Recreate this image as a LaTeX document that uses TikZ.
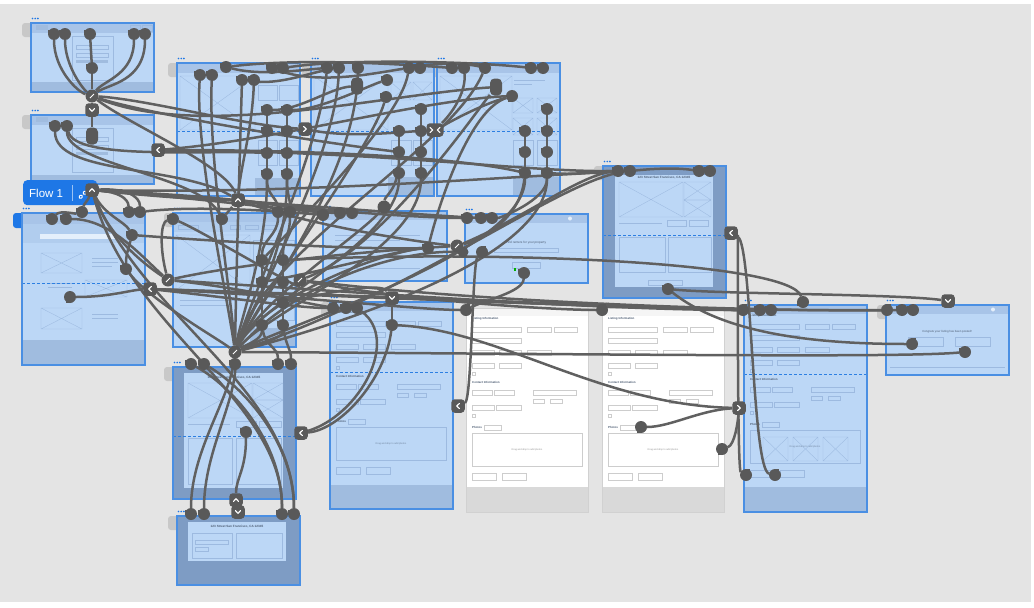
\documentclass[tikz,border=0pt]{standalone}
\usepackage{fontspec}
\setmainfont{Liberation Sans}
\usetikzlibrary{calc}
\pgfdeclarelayer{boards}
\pgfdeclarelayer{wires}
\pgfsetlayers{boards,wires,main}
\definecolor{bgc}{HTML}{E4E4E4}
\definecolor{abf}{HTML}{BCD7F6}
\definecolor{abh}{HTML}{A8C4E8}
\definecolor{abb}{HTML}{A0BCDF}
\definecolor{abd}{HTML}{7E9CC4}
\definecolor{bdr}{HTML}{4A8FE3}
\definecolor{wirec}{HTML}{606060}
\definecolor{nubc}{HTML}{595959}
\definecolor{dashc}{HTML}{2C7FE2}
\definecolor{flowc}{HTML}{1E77E6}
\definecolor{tabc}{HTML}{C8C8C8}
\definecolor{wfl}{HTML}{9DBAE0}
\definecolor{wgl}{HTML}{CDCDCD}
\definecolor{wbb}{HTML}{D9D9D9}
\definecolor{txc}{HTML}{4D5D73}
\tikzset{
  x=1pt,y=-1pt,
  wire/.style={draw=wirec,line width=2.5pt},
  boardf/.style={fill=abf,draw=none,inner sep=0pt,outer sep=0pt,anchor=north west},
  dboard/.style={boardf,fill=abd},
  wboard/.style={boardf,fill=white},
  bord/.style={draw=bdr,line width=1.3pt},
  fold/.style={draw=dashc,line width=0.8pt,dash pattern=on 3pt off 2pt},
  wf/.style={draw=wfl,line width=0.35pt},
  nubbase/.style={circle,fill=nubc,minimum size=12pt,inner sep=0pt,outer sep=0pt},
  nub/.style={nubbase,append after command={\pgfextra{\fill[nubc] (\tikzlastnode.west) rectangle (\tikzlastnode.north east);}}},
  nubU/.style={nubbase,append after command={\pgfextra{\fill[nubc] (\tikzlastnode.west) rectangle (\tikzlastnode.south east);}}},
  nubR/.style={nubbase,append after command={\pgfextra{\fill[nubc] (\tikzlastnode.north west) rectangle (\tikzlastnode.south);}}},
  nubL/.style={nubbase,append after command={\pgfextra{\fill[nubc] (\tikzlastnode.north) rectangle (\tikzlastnode.south east);}}},
  tallnub/.style={rectangle,fill=nubc,minimum width=12pt,minimum height=17pt,rounded corners=4.5pt,inner sep=0pt},
  knot/.style={circle,fill=nubc,minimum size=13pt,inner sep=0pt},
  arrnub/.style={rectangle,rounded corners=3.5pt,fill=nubc,minimum width=13.5pt,minimum height=13.5pt,inner sep=0pt},
  chev/.style={draw=white,line width=1.1pt,line cap=round,line join=round},
  tiny/.style={inner sep=0pt,font=\fontsize{2.8}{3}\selectfont,text=txc},
}
\newcommand\mkboard[6]{\node[#6,minimum width={(#4-#2)*1pt},minimum height={(#5-#3)*1pt}] (#1) at (#2,#3) {};}
\newcommand\bordr[1]{\draw[bord] (#1.north west) rectangle (#1.south east);}
\newcommand\gtab[2]{\fill[tabc,rounded corners=3pt] (#1-9,#2) rectangle (#1+5,#2+14);}
\newcommand\tdots[3]{\foreach \i in {0,1,2} \fill[#3] (#1+1.5+\i*2.7,#2-4.5) circle (0.95pt);}
\newcommand\xbox[5]{\draw[#5] (#1,#2) rectangle (#3,#4) (#1,#2) -- (#3,#4) (#1,#4) -- (#3,#2);}
\newcommand\chU[1]{\draw[chev] ($(#1)+(-2.6,1.4)$) -- ($(#1)+(0,-1.3)$) -- ($(#1)+(2.6,1.4)$);}
\newcommand\chD[1]{\draw[chev] ($(#1)+(-2.6,-1.4)$) -- ($(#1)+(0,1.3)$) -- ($(#1)+(2.6,-1.4)$);}
\newcommand\chL[1]{\draw[chev] ($(#1)+(1.4,-2.6)$) -- ($(#1)+(-1.3,0)$) -- ($(#1)+(1.4,2.6)$);}
\newcommand\chR[1]{\draw[chev] ($(#1)+(-1.4,-2.6)$) -- ($(#1)+(1.3,0)$) -- ($(#1)+(-1.4,2.6)$);}
\newcommand\formset[4]{%
\begin{scope}[shift={(#1,#2)}]
\draw[draw=#3,line width=0.35pt] (6,19) rectangle (55,24) (61,19) rectangle (85,24) (88,19) rectangle (111,24)
 (6,30) rectangle (55,35)
 (6,42) rectangle (28,47) (33,42) rectangle (55,47) (61,42) rectangle (85,47)
 (6,55) rectangle (28,60) (33,55) rectangle (55,60)
 (6,64) rectangle (9,67)
 (6,82) rectangle (26,87) (28,82) rectangle (48,87)
 (67,82) rectangle (110,87)
 (67,91) rectangle (78,95) (84,91) rectangle (96,95)
 (6,97) rectangle (28,102) (30,97) rectangle (55,102)
 (6,106) rectangle (9,109)
 (18,117) rectangle (35,122)
 (6,125) rectangle (116,158)
 (6,165) rectangle (30,172) (36,165) rectangle (60,172);
\node[tiny,anchor=west,font=\fontsize{2.9}{3}\selectfont\bfseries] (#4li) at (6,11) {Listing Information};
\node[tiny,anchor=west,font=\fontsize{2.9}{3}\selectfont\bfseries] (#4ci) at (6,74) {Contact Information};
\node[tiny,anchor=west,font=\fontsize{2.9}{3}\selectfont\bfseries] (#4ph) at (6,119.5) {Photos};
\node[tiny,text=#3!70!black,font=\fontsize{2.4}{3}\selectfont] (#4dd) at (61,141.5) {Drag and drop to add photos};
\end{scope}}
\begin{document}
\begin{tikzpicture}
\useasboundingbox (0,0) rectangle (1034,608);
\begin{pgfonlayer}{boards}
\fill[white] (0,0) rectangle (1034,608);
\fill[bgc] (0,4) rectangle (1031,602);
% tabs
\gtab{31}{23}\gtab{31}{115}\gtab{177}{63}\gtab{311}{63}\gtab{437}{63}\gtab{173}{213}
\gtab{603}{166}\gtab{173}{367}\gtab{177}{516}\gtab{886}{305}\gtab{330}{302}
\fill[flowc,rounded corners=3pt] (13,213) rectangle (27,228);
% dots
\tdots{31}{23}{flowc}\tdots{31}{115}{flowc}\tdots{22}{213}{flowc}\tdots{177}{63}{flowc}
\tdots{311}{63}{flowc}\tdots{437}{63}{flowc}\tdots{173}{213}{flowc}\tdots{323}{211}{flowc}
\tdots{465}{214}{flowc}\tdots{603}{166}{flowc}\tdots{330}{302}{flowc}\tdots{466}{308}{gray}
\tdots{602}{308}{gray}\tdots{744}{305}{flowc}\tdots{886}{305}{flowc}\tdots{173}{367}{flowc}
\tdots{177}{516}{flowc}
% boards
\mkboard{A1}{31}{23}{154}{92}{boardf}
\mkboard{A2}{31}{115}{154}{184}{boardf}
\mkboard{A3}{22}{213}{145}{365}{boardf}
\mkboard{A4}{177}{63}{300}{196}{boardf}
\mkboard{A5}{311}{63}{434}{196}{boardf}
\mkboard{A6}{437}{63}{560}{196}{boardf}
\mkboard{A7}{173}{213}{296}{347}{boardf}
\mkboard{A8}{323}{211}{447}{281}{boardf}
\mkboard{A9}{465}{214}{588}{283}{boardf}
\mkboard{A10}{603}{166}{726}{298}{dboard}
\mkboard{A11}{330}{302}{453}{509}{boardf}
\mkboard{A12}{466}{308}{588}{512}{wboard}
\mkboard{A13}{602}{308}{724}{512}{wboard}
\mkboard{A14}{744}{305}{867}{512}{boardf}
\mkboard{A15}{886}{305}{1009}{375}{boardf}
\mkboard{A16}{173}{367}{296}{499}{dboard}
\mkboard{A17}{177}{516}{300}{585}{dboard}
% A1
\fill[abh] (31,23) rectangle (154,33); \fill[abb] (31,82) rectangle (154,92);
\fill[abb] (36,25) rectangle (48,30); \draw[wf] (130,25) rectangle (140,31) (142,25) rectangle (152,31);
\draw[wf] (72,36) rectangle (113,80); \draw[wf] (76,45) rectangle (108,49) (76,53) rectangle (108,57);
\fill[abb] (76,60) rectangle (108,63);
% A2
\fill[abh] (31,115) rectangle (154,125); \fill[abb] (31,175) rectangle (154,184);
\fill[abb] (36,117) rectangle (48,122);
\draw[wf] (72,128) rectangle (113,172); \draw[wf] (76,137) rectangle (108,141) (76,145) rectangle (108,149);
\fill[abb] (76,152) rectangle (108,155);
% A3
\fill[abh] (22,213) rectangle (145,224); \fill[abh!55!abf] (22,224) rectangle (145,243);
\fill[abf!40!white] (40,234) rectangle (118,239);
\xbox{41}{253}{82}{273}{wf}\xbox{41}{308}{82}{329}{wf}\xbox{85}{280}{127}{297}{wf}
\draw[wf] (92,258) -- (118,258) (92,262) -- (118,262) (92,266) -- (112,266) (92,314) -- (118,314) (92,318) -- (118,318) (48,283) -- (72,283) (48,287) -- (72,287);
\fill[abb] (22,340) rectangle (145,365);
\draw[fold] (22,283) -- (145,283);
% A4
\fill[abh] (177,63) rectangle (300,73); \xbox{180}{76}{255}{130}{wf}
\draw[wf] (258,85) rectangle (277,100) (279,85) rectangle (298,100) (258,140) rectangle (277,165) (279,140) rectangle (298,165);
\fill[abb] (255,178) rectangle (300,196); \draw[fold] (177,131) -- (300,131);
% A5
\fill[abh] (311,63) rectangle (434,73); \xbox{314}{76}{388}{130}{wf}
\xbox{391}{82}{411}{100}{wf}\xbox{413}{82}{432}{100}{wf}\draw[wf] (391,140) rectangle (411,165) (413,140) rectangle (432,165);
\fill[abb] (388,177) rectangle (434,196); \draw[fold] (311,131) -- (434,131);
% A6
\fill[abh] (437,63) rectangle (560,73); \xbox{440}{76}{512}{130}{wf}
\xbox{513}{98}{533}{113}{wf}\xbox{537}{98}{557}{113}{wf}\xbox{513}{118}{533}{135}{wf}\xbox{537}{118}{557}{135}{wf}
\draw[wf] (514,80) -- (545,80) (514,84) -- (532,84) (513,140) rectangle (533,165) (537,140) rectangle (557,165);
\fill[abb] (513,177) rectangle (560,196); \draw[fold] (437,131) -- (560,131);
% A7
\fill[abh] (173,213) rectangle (296,222); \fill[abh!55!abf] (173,222) rectangle (296,232);
\draw[wf] (178,225) rectangle (198,229) (230,225) rectangle (240,229) (245,225) rectangle (258,229) (262,225) rectangle (276,229);
\xbox{176}{235}{250}{290}{wf}
\draw[wf] (253,240) rectangle (294,320) (180,300) -- (240,300) (180,305) -- (230,305);
\fill[abb] (250,328) rectangle (296,347);
% A8
\fill[abh] (323,211) rectangle (447,220); \draw[wf] (335,235) -- (420,235) (335,240) -- (400,240) (335,268) -- (420,268);
\fill[white!60!abf] (418,215.5) circle (2pt);
% A9
\fill[abh] (465,214) rectangle (588,223); \fill[white!60!abf] (570,218.5) circle (2pt);
\node[tiny,font=\fontsize{3.1}{3.5}\selectfont] (t9) at (526,243) {Find renters for your property};
\draw[wf] (494,248) rectangle (558,252); \draw[wf] (512,262) rectangle (540,268);
\fill[green!70!black] (514,268) rectangle (515.5,271);
% A10
\fill[abf] (615,175) rectangle (713,287);
\node[tiny,font=\fontsize{3.1}{3.5}\selectfont\bfseries] (t10) at (664,178) {123 Street San Francisco, CA 12345};
\xbox{619}{182}{683}{217}{wf}\xbox{684}{182}{711}{200}{wf}\xbox{684}{200}{711}{217}{wf}
\draw[wf] (619,223) -- (662,223) (667,220) rectangle (686,226) (689,220) rectangle (708,226) (619,237) rectangle (665,272) (668,237) rectangle (711,272) (648,280) rectangle (682,285);
\draw[fold] (603,235) -- (726,235);
% A11
\fill[abh] (330,302) rectangle (453,311); \formset{330}{302}{wfl}{f11} \fill[abb] (330,485) rectangle (453,509);
\draw[fold] (330,372) -- (453,372);
% A12 / A13
\fill[black!4] (466,308) rectangle (588,316); \formset{466}{308}{wgl}{f12} \fill[wbb] (466,487) rectangle (588,512);
\draw[black!18,line width=0.4pt] (A12.north west) rectangle (A12.south east);
\fill[black!4] (602,308) rectangle (724,316); \formset{602}{308}{wgl}{f13} \fill[wbb] (602,487) rectangle (724,512);
\draw[black!18,line width=0.4pt] (A13.north west) rectangle (A13.south east);
% A14
\fill[abh] (744,305) rectangle (867,314); \formset{744}{305}{wfl}{f14} \fill[abb] (744,487) rectangle (867,512);
\xbox{763}{437}{788}{461}{wf}\xbox{793}{437}{818}{461}{wf}\xbox{823}{437}{848}{461}{wf}
\draw[fold] (744,374) -- (867,374);
% A15
\fill[abh] (886,305) rectangle (1009,314); \fill[white!60!abf] (993,309.5) circle (2pt);
\node[tiny,font=\fontsize{2.9}{3.5}\selectfont] (t15) at (947,332) {Congrats your listing has been posted!};
\draw[wf] (908,337) rectangle (943,346) (955,337) rectangle (990,346) (890,367) -- (1005,367);
% A16
\fill[abf] (184,373) rectangle (283,488);
\node[tiny,font=\fontsize{3.1}{3.5}\selectfont\bfseries] (t16) at (234,378) {123 Street San Francisco, CA 12345};
\xbox{188}{383}{252}{418}{wf}\xbox{253}{383}{283}{400}{wf}\xbox{253}{400}{283}{418}{wf}
\draw[wf] (188,424) -- (230,424) (236,421) rectangle (256,427) (259,421) rectangle (281,427) (188,438) rectangle (232,484) (236,438) rectangle (281,484);
\draw[fold] (173,436) -- (296,436);
% A17
\fill[abf] (188,522) rectangle (286,561);
\node[tiny,font=\fontsize{3.1}{3.5}\selectfont\bfseries] (t17) at (237,527) {123 Street San Francisco, CA 12345};
\draw[wf] (192,533) rectangle (232,558) (236,533) rectangle (282,558) (195,540) rectangle (228,544) (195,547) rectangle (208,551);
% borders
\bordr{A1}\bordr{A2}\bordr{A3}\bordr{A4}\bordr{A5}\bordr{A6}\bordr{A7}\bordr{A8}\bordr{A9}
\bordr{A10}\bordr{A11}\bordr{A14}\bordr{A15}\bordr{A16}\bordr{A17}
% Flow button
\node[fill=flowc,rounded corners=4pt,minimum width=74pt,minimum height=25pt,inner sep=0pt,anchor=north west] (flow) at (23,180) {};
\node[text=white,font=\fontsize{11.5}{13}\selectfont,anchor=west,inner sep=0pt] (flowtxt) at (29,193) {Flow 1};
\draw[white!55!flowc,line width=0.6pt] (72,185) -- (72,201);
\draw[white,line width=0.9pt,rounded corners=1.2pt] (78.5,197) -- (81,194.5) -- (83,196.5) -- (80.5,199) -- cycle;
\draw[white,line width=0.9pt,rounded corners=1.2pt] (82.5,193) -- (85,190.5) -- (87,192.5) -- (84.5,195) -- cycle;
\end{pgfonlayer}
% ---------------- nubs ----------------
\node[nub] (a1n1) at (54,34) {}; \node[nub] (a1n2) at (65,34) {}; \node[nub] (a1n3) at (90,34) {};
\node[nub] (a1n4) at (134,34) {}; \node[nub] (a1n5) at (145,34) {}; \node[nub] (a1n6) at (92,68) {};
\node[knot] (hub1) at (92,96) {}; \node[arrnub] (arr1) at (92,110) {};
\node[nub] (a2n1) at (55,126) {}; \node[nub] (a2n2) at (67,126) {}; \node[tallnub] (a2n3) at (92,136) {};
\node[arrnub] (arr2) at (158,150) {}; \node[arrnub] (home) at (92,190) {};
\node[nub] (a3n1) at (52,219) {}; \node[nub] (a3n2) at (66,219) {}; \node[nub] (a3n3) at (82,212) {};
\node[nub] (a3n4) at (129,212) {}; \node[nub] (a3n5) at (140,212) {}; \node[nub] (a3n6) at (132,235) {};
\node[nub] (a3n7) at (126,269) {}; \node[nubR] (a3n8) at (70,297) {};
\node[knot] (k3) at (168,280) {}; \node[arrnub] (k4) at (150,289) {};
\node[nub] (a4n1) at (200,75) {}; \node[nub] (a4n2) at (212,75) {}; \node[nub] (a4n3) at (226,67) {};
\node[nub] (a4n4) at (272,68) {}; \node[nub] (a4n5) at (283,68) {}; \node[nub] (a4n6) at (242,80) {}; \node[nub] (a4n7) at (254,80) {};
\node[nub] (a4c1) at (267,110) {}; \node[nub] (a4c2) at (287,110) {}; \node[nub] (a4c3) at (267,131) {}; \node[nub] (a4c4) at (287,131) {};
\node[nub] (a4c5) at (267,153) {}; \node[nub] (a4c6) at (287,153) {}; \node[nub] (a4c7) at (267,174) {}; \node[nub] (a4c8) at (287,174) {};
\node[arrnub] (arr4r) at (305,129) {}; \node[arrnub] (arr4) at (238,200) {};
\node[nub] (a5n1) at (327,68) {}; \node[nub] (a5n2) at (339,68) {}; \node[nub] (a5n3) at (358,68) {};
\node[nub] (a5n4) at (409,68) {}; \node[nub] (a5n5) at (420,68) {}; \node[tallnub] (a5n6) at (357,86) {};
\node[nub] (a5n7) at (387,80) {}; \node[nub] (a5n8) at (386,97) {};
\node[nub] (a5c0) at (421,109) {}; \node[nub] (a5c1) at (399,131) {}; \node[nub] (a5c2) at (421,131) {};
\node[nub] (a5c3) at (399,152) {}; \node[nub] (a5c4) at (421,152) {}; \node[nub] (a5c5) at (399,173) {}; \node[nub] (a5c6) at (421,173) {};
\node[arrnub,minimum width=17pt] (arr5) at (435,130) {};
\node[nub] (a6n1) at (452,68) {}; \node[nub] (a6n2) at (464,68) {}; \node[nub] (a6n3) at (485,68) {};
\node[nub] (a6n4) at (531,68) {}; \node[nub] (a6n5) at (543,68) {}; \node[tallnub] (a6n6) at (496,87) {}; \node[nubR] (a6n7) at (512,96) {};
\node[nub] (a6c0) at (547,109) {}; \node[nub] (a6c1) at (525,131) {}; \node[nub] (a6c2) at (547,131) {};
\node[nub] (a6c3) at (525,152) {}; \node[nub] (a6c4) at (547,152) {}; \node[nub] (a6c5) at (525,173) {}; \node[nub] (a6c6) at (547,173) {};
\node[nub] (a7n1) at (173,219) {}; \node[nub] (a7n2) at (222,219) {}; \node[nub] (a7n3) at (278,212) {}; \node[nub] (a7n4) at (290,212) {};
\node[nub] (a7c1) at (262,260) {}; \node[nub] (a7c2) at (283,260) {}; \node[nub] (a7c3) at (262,282) {}; \node[nub] (a7c4) at (283,282) {};
\node[nub] (a7c5) at (283,303) {}; \node[nub] (a7c6) at (262,325) {}; \node[nub] (a7c7) at (283,325) {};
\node[knot] (k7) at (300,280) {}; \node[knot] (hubC) at (235,352) {};
\node[nub] (a16n1) at (191,364) {}; \node[nub] (a16n1b) at (204,364) {}; \node[nub] (a16n2) at (235,364) {};
\node[nub] (a16n3) at (278,364) {}; \node[nub] (a16n3b) at (291,364) {}; \node[nub] (a16n4) at (246,432) {};
\node[arrnub] (arr16) at (301,433) {}; \node[arrnub] (arrUp) at (236,500) {}; \node[arrnub] (arrDn) at (238,512) {};
\node[nub] (a17n1) at (191,514) {}; \node[nub] (a17n2) at (204,514) {}; \node[nub] (a17n3) at (282,514) {}; \node[nub] (a17n4) at (294,514) {};
\node[nub] (a8n0) at (323,215) {}; \node[nub] (a8n1) at (340,213) {}; \node[nub] (a8n1b) at (352,213) {};
\node[circle,fill=nubc,minimum size=13pt,inner sep=0pt] (a8n2) at (384,207) {}; \node[nub] (a8n3) at (428,248) {};
\node[knot] (k8a) at (457,246) {}; \node[knot,minimum size=11pt] (k8b) at (463,252) {};
\node[nub] (a9n1) at (467,218) {}; \node[nub] (a9n2) at (481,218) {}; \node[nub] (a9n2b) at (492,218) {};
\node[nubL] (a9n3) at (482,252) {}; \node[nub] (a9n4) at (524,273) {};
\node[nub] (a10n1) at (618,171) {}; \node[nub] (a10n2) at (630,171) {}; \node[nub] (a10n3) at (699,171) {}; \node[nub] (a10n4) at (710,171) {};
\node[nub] (a10n5) at (668,289) {}; \node[arrnub] (arr10) at (731,233) {};
\node[nub] (a11n1) at (392,325) {}; \node[arrnub] (arr11) at (392,298) {};
\node[nubL] (a11n2) at (333,308) {}; \node[nub] (a11n3) at (346,308) {}; \node[nub] (a11n3b) at (357,308) {};
\node[nubL] (a12n1) at (466,310) {}; \node[arrnub] (arr12) at (458,406) {};
\node[nubL] (a13n1) at (602,310) {}; \node[nubR] (a13n2) at (641,427) {}; \node[nubR] (a13n3) at (722,449) {};
\node[arrnub] (arr13) at (739,408) {};
\node[nubL] (a14t1) at (743,310) {}; \node[nub] (a14t2) at (760,310) {}; \node[nub] (a14t3) at (771,310) {};
\node[nubL] (a14n1) at (746,475) {}; \node[nubL] (a14n2) at (775,475) {}; \node[nubU] (nubU) at (803,302) {};
\node[arrnub] (arr15) at (948,301) {};
\node[nubL] (a15n3) at (887,310) {}; \node[nub] (a15n4) at (902,310) {}; \node[nub] (a15n5) at (913,310) {};
\node[nubL] (a15n1) at (912,344) {}; \node[nub] (a15n2) at (965,352) {};
% chevrons
\chD{arr1}\chL{arr2}\chU{home}\chL{k4}\chR{arr4r}\chU{arr4}\chL{arr16}\chU{arrUp}\chD{arrDn}
\chD{arr11}\chL{arr12}\chR{arr13}\chL{arr10}\chD{arr15}
\draw[chev] ($(arr5)+(-5,-2.6)$) -- ($(arr5)+(-2.3,0)$) -- ($(arr5)+(-5,2.6)$);
\draw[chev] ($(arr5)+(5,-2.6)$) -- ($(arr5)+(2.3,0)$) -- ($(arr5)+(5,2.6)$);
\foreach \k in {hub1,k3,k7,hubC,k8a} {\draw[white,line width=0.8pt] ($(\k)+(-2,2)$) -- ($(\k)+(2,-2)$);}
% ---------------- wires ----------------
\begin{pgfonlayer}{wires}
\draw[wire] (a1n1) .. controls (54,70) and (78,92) .. (hub1);
\draw[wire] (a1n2) .. controls (65,65) and (82,88) .. (hub1);
\draw[wire] (a1n4) .. controls (134,75) and (104,80) .. (hub1);
\draw[wire] (a1n5) .. controls (145,82) and (108,84) .. (hub1);
\draw[wire] (a1n3) -- (a1n6); \draw[wire] (a1n6) -- (hub1); \draw[wire] (hub1) -- (arr1); \draw[wire] (arr1) -- (a2n3);
\draw[wire] (hub1) .. controls (150,100) and (240,125) .. (arr4r);
\draw[wire] (hub1) .. controls (140,112) and (300,140) .. (a5c3);
\draw[wire] (hub1) .. controls (130,125) and (225,165) .. (arr4);
\draw[wire] (hub1) .. controls (200,140) and (380,95) .. (a6n6);
\draw[wire] (a2n1) .. controls (55,175) and (180,165) .. (arr4);
\draw[wire] (a2n2) .. controls (67,165) and (200,175) .. (a7n2);
\draw[wire] (a2n2) .. controls (75,160) and (200,150) .. (a4c5);
\draw[wire] (arr2) .. controls (350,150) and (470,160) .. (a6c5);
\draw[wire] (arr2) .. controls (400,152) and (520,172) .. (a10n1);
\draw[wire] (arr2) .. controls (280,140) and (420,100) .. (a6n7);
% home
\draw[wire] (home) .. controls (300,194) and (480,178) .. (a10n2);
\draw[wire] (home) .. controls (118,192) and (128,198) .. (a3n4);
\draw[wire] (home) .. controls (125,188) and (140,196) .. (a3n5);
\draw[wire] (home) .. controls (88,200) and (84,204) .. (a3n3);
\draw[wire] (home) .. controls (105,215) and (125,222) .. (a3n6);
\draw[wire] (home) .. controls (110,240) and (150,268) .. (k3);
\draw[wire] (home) .. controls (130,330) and (283,400) .. (a17n3);
\draw[wire] (home) .. controls (142,315) and (294,390) .. (a17n4);
\draw[wire] (home) .. controls (150,196) and (205,200) .. (arr4);
\draw[wire] (home) .. controls (220,200) and (300,212) .. (a8n1);
\draw[wire] (home) .. controls (300,205) and (420,215) .. (a9n2);
\draw[wire] (home) .. controls (200,196) and (260,200) .. (a7n3);
% A3
\draw[wire] (a3n2) .. controls (110,219) and (140,255) .. (k3);
\draw[wire] (a3n1) .. controls (60,210) and (75,214) .. (a3n3);
\draw[wire] (a3n8) .. controls (110,297) and (130,290) .. (k4);
\draw[wire] (k3) .. controls (160,250) and (160,222) .. (a7n1);
\draw[wire] (a3n6) .. controls (128,250) and (126,255) .. (a3n7);
\draw[wire] (a3n7) .. controls (150,300) and (220,340) .. (hubC);
\draw[wire] (k4) .. controls (400,298) and (700,312) .. (a15n3);
\draw[wire] (k3) .. controls (350,292) and (600,310) .. (a14t1);
\draw[wire] (k4) .. controls (300,296) and (420,310) .. (a12n1);
\draw[wire] (k4) .. controls (250,300) and (300,308) .. (a11n2);
\draw[wire] (k3) .. controls (260,290) and (320,308) .. (a11n3);
\draw[wire] (k3) .. controls (250,262) and (380,250) .. (k8a);
\draw[wire] (a3n6) .. controls (200,240) and (350,250) .. (a8n3);
\draw[wire] (a7n1) .. controls (200,230) and (300,290) .. (k7);
% A4
\draw[wire] (a4n1) .. controls (195,150) and (228,300) .. (hubC);
\draw[wire] (a4n2) .. controls (208,160) and (232,300) .. (hubC);
\draw[wire] (a4n3) .. controls (300,58) and (400,64) .. (a6n1);
\draw[wire] (a4n3) .. controls (262,76) and (300,70) .. (a5n1);
\draw[wire] (a4n6) .. controls (280,86) and (310,72) .. (a5n2);
\draw[wire] (a4n4) .. controls (320,86) and (380,72) .. (a5n4);
\draw[wire] (a4n5) .. controls (350,58) and (480,62) .. (a6n4);
\draw[wire] (a4n6) .. controls (240,150) and (236,280) .. (hubC);
\draw[wire] (a4n7) .. controls (252,130) and (240,170) .. (arr4);
\draw[wire] (a4c1) -- (a4c3); \draw[wire] (a4c3) -- (a4c5); \draw[wire] (a4c5) -- (a4c7);
\draw[wire] (a4c2) -- (a4c4); \draw[wire] (a4c4) -- (a4c6); \draw[wire] (a4c6) -- (a4c8);
\draw[wire] (a4c7) .. controls (267,250) and (240,320) .. (hubC);
\draw[wire] (a4c8) .. controls (287,260) and (245,320) .. (hubC);
\draw[wire] (a4c7) .. controls (267,195) and (277,198) .. (a7n3);
\draw[wire] (a4c8) .. controls (287,195) and (290,198) .. (a7n4);
\draw[wire] (a4c1) .. controls (300,110) and (330,88) .. (a5n6);
\draw[wire] (a4c2) .. controls (320,110) and (370,85) .. (a5n7);
\draw[wire] (arr4r) .. controls (350,138) and (400,132) .. (arr5);
% A5
\draw[wire] (a5c0) -- (a5c2); \draw[wire] (a5c1) -- (a5c3); \draw[wire] (a5c3) -- (a5c5);
\draw[wire] (a5c2) -- (a5c4); \draw[wire] (a5c4) -- (a5c6);
\draw[wire] (a5c5) .. controls (399,240) and (262,300) .. (hubC);
\draw[wire] (a5c6) .. controls (421,250) and (270,310) .. (hubC);
\draw[wire] (a5n1) .. controls (320,150) and (250,300) .. (hubC);
\draw[wire] (a5n2) .. controls (335,160) and (255,300) .. (hubC);
\draw[wire] (a5n3) .. controls (355,180) and (260,300) .. (hubC);
\draw[wire] (a5n8) .. controls (370,150) and (270,280) .. (hubC);
\draw[wire] (a5n4) .. controls (400,120) and (300,220) .. (a7c1);
\draw[wire] (a5c3) .. controls (399,190) and (385,195) .. (a8n2);
\draw[wire] (a8n2) .. controls (360,235) and (260,300) .. (hubC);
% A6
\draw[wire] (a6c0) -- (a6c2); \draw[wire] (a6c1) -- (a6c3); \draw[wire] (a6c3) -- (a6c5);
\draw[wire] (a6c2) -- (a6c4); \draw[wire] (a6c4) -- (a6c6);
\draw[wire] (a6c5) .. controls (525,250) and (300,320) .. (hubC);
\draw[wire] (a6c6) .. controls (547,262) and (320,330) .. (hubC);
\draw[wire] (a6n3) .. controls (450,150) and (262,250) .. (hubC);
\draw[wire] (a6c6) .. controls (580,175) and (600,171) .. (a10n1);
\draw[wire] (a6c5) .. controls (520,220) and (480,240) .. (k8a);
\draw[wire] (a6c6) .. controls (547,200) and (500,218) .. (a9n2b);
\draw[wire] (arr5) .. controls (455,110) and (466,90) .. (a6n2);
\draw[wire] (a6n7) .. controls (480,105) and (450,122) .. (arr5);
\draw[wire] (a5n4) .. controls (440,62) and (470,64) .. (a6n3);
\draw[wire] (a6n6) .. controls (470,120) and (380,250) .. (k7);
\draw[wire] (a6n7) .. controls (470,110) and (440,200) .. (a8n3);
% A7
\draw[wire] (arr4) -- (a7n2);
\draw[wire] (a7c1) -- (a7c3); \draw[wire] (a7c2) -- (a7c4); \draw[wire] (a7c4) -- (a7c5);
\draw[wire] (a7c5) -- (a7c7); \draw[wire] (a7c3) -- (a7c6);
\draw[wire] (a7n3) .. controls (278,235) and (262,240) .. (a7c1);
\draw[wire] (a7n4) .. controls (290,235) and (283,240) .. (a7c2);
\draw[wire] (a7c6) .. controls (262,340) and (245,345) .. (hubC);
\draw[wire] (a7c7) .. controls (283,340) and (250,345) .. (hubC);
\draw[wire] (a7c6) .. controls (265,345) and (278,348) .. (a16n3);
\draw[wire] (a7c7) .. controls (286,345) and (291,350) .. (a16n3b);
\draw[wire] (a7c2) .. controls (500,250) and (790,262) .. (nubU);
\draw[wire] (a7c5) .. controls (330,292) and (380,282) .. (arr11);
\draw[wire] (a7c3) .. controls (330,270) and (400,250) .. (a8n3);
\draw[wire] (k7) .. controls (400,300) and (550,310) .. (a13n1);
\draw[wire] (hubC) -- (a16n2);
% hubC & centre
\draw[wire] (hubC) .. controls (600,354) and (900,358) .. (a15n2);
\draw[wire] (hubC) .. controls (260,300) and (380,252) .. (a8n3);
\draw[wire] (hubC) .. controls (300,280) and (400,250) .. (k8b);
\draw[wire] (arr4) .. controls (300,222) and (400,240) .. (k8a);
\draw[wire] (arr4) .. controls (280,205) and (320,213) .. (a8n1b);
\draw[wire] (a3n5) .. controls (200,205) and (290,212) .. (a8n0);
\draw[wire] (arr4) .. controls (330,212) and (430,218) .. (a9n1);
\draw[wire] (arr12) .. controls (472,400) and (472,262) .. (a9n3);
\draw[wire] (a9n4) .. controls (523,292) and (485,300) .. (a12n1);
\draw[wire] (k8a) .. controls (520,220) and (580,175) .. (a10n1);
\draw[wire] (hubC) .. controls (420,290) and (560,180) .. (a10n2);
% A11 .. A15
\draw[wire] (arr11) -- (a11n1);
\draw[wire] (a11n1) .. controls (500,330) and (600,405) .. (arr13);
\draw[wire] (arr16) .. controls (340,430) and (385,380) .. (a11n1);
\draw[wire] (arr16) .. controls (360,415) and (400,340) .. (a11n3b);
\draw[wire] (a16n4) .. controls (246,470) and (236,478) .. (arrUp);
\draw[wire] (hubC) .. controls (230,400) and (191,450) .. (a17n1);
\draw[wire] (hubC) .. controls (238,400) and (204,450) .. (a17n2);
\draw[wire] (a16n1) .. controls (230,385) and (282,440) .. (a17n3);
\draw[wire] (a16n1b) .. controls (240,385) and (294,440) .. (a17n4);
\draw[wire] (arr13) .. controls (700,410) and (670,427) .. (a13n2);
\draw[wire] (a13n3) .. controls (735,445) and (738,420) .. (arr13);
\draw[wire] (arr10) .. controls (738,235) and (737,470) .. (a14n1);
\draw[wire] (arr10) .. controls (752,245) and (752,470) .. (a14n2);
\draw[wire] (a10n5) .. controls (720,294) and (900,294) .. (arr15);
\draw[wire] (a10n5) .. controls (720,330) and (800,344) .. (a15n1);
\draw[wire] (arr11) .. controls (500,302) and (700,310) .. (a14t2);
\draw[wire] (k7) .. controls (500,305) and (800,312) .. (a15n4);
\draw[wire] (k4) .. controls (500,300) and (750,312) .. (a14t3);
\draw[wire] (a10n2) .. controls (660,168) and (680,168) .. (a10n3);
\end{pgfonlayer}
\end{tikzpicture}
\end{document}
